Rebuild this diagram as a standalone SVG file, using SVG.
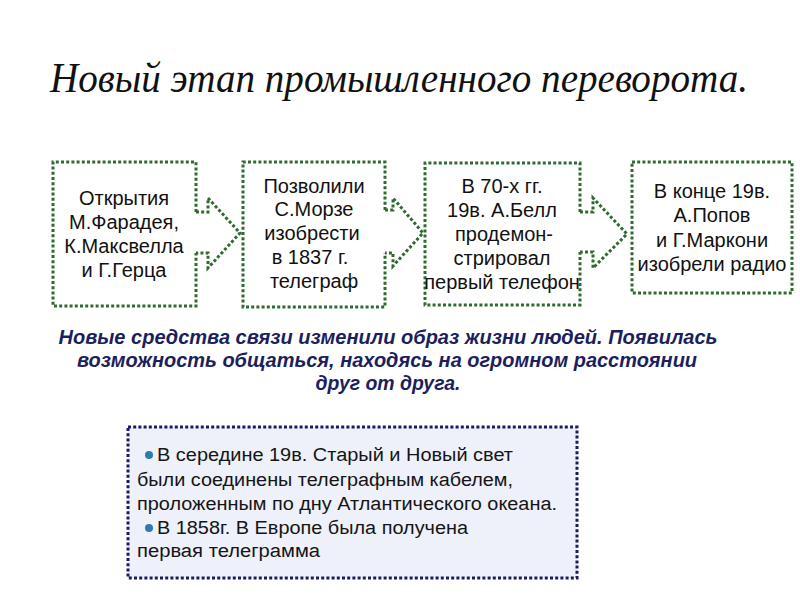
<svg xmlns="http://www.w3.org/2000/svg" width="800" height="600" viewBox="0 0 800 600">
<style>
.bg{fill:#ffffff}
.box{fill:none;stroke:#2f6b2f;stroke-width:3;stroke-dasharray:3 2.2}
.arr{fill:none;stroke:#2f6b2f;stroke-width:3;stroke-dasharray:3 2.2}
.t{font-family:"Liberation Sans",Arial,sans-serif;font-size:20px;fill:#111;text-anchor:middle}
.title{font-family:"Liberation Serif","Times New Roman",serif;font-style:italic;font-size:42px;fill:#111}
.mid{font-family:"Liberation Sans Narrow","Liberation Sans",Arial,sans-serif;font-weight:bold;font-style:italic;font-size:20px;fill:#1c1f5e;text-anchor:middle}
.note{fill:#eef0fa;stroke:#1a1a66;stroke-width:3;stroke-dasharray:3 2.2}
.nt{font-family:"Liberation Sans",Arial,sans-serif;font-size:18px;fill:#151515}
.bul{fill:#2b7db0}
</style>
<rect class="bg" x="0" y="0" width="800" height="600"/>
<text class="title" x="50" y="92" textLength="698" lengthAdjust="spacingAndGlyphs">Новый этап промышленного переворота.</text>

<g id="node1">
<path class="box" d="M196,212 V162 H53 V306 H196 V253"/>
<text class="t" x="124" y="205">Открытия</text>
<text class="t" x="124" y="229">М.Фарадея,</text>
<text class="t" x="124" y="253">К.Максвелла</text>
<text class="t" x="124" y="277">и Г.Герца</text>
</g>
<g id="node2">
<path class="box" d="M385,210 V162 H243 V307 H385 V253"/>
<text class="t" x="314" y="193">Позволили</text>
<text class="t" x="314" y="216">С.Морзе</text>
<text class="t" x="312" y="240">изобрести</text>
<text class="t" x="310" y="264">в 1837 г.</text>
<text class="t" x="314" y="288">телеграф</text>
</g>
<g id="node3">
<path class="box" d="M580,212 V163 H425 V305 H580 V252"/>
<text class="t" x="502" y="193">В 70-х гг.</text>
<text class="t" x="502" y="217">19в. А.Белл</text>
<text class="t" x="504" y="241">продемон-</text>
<text class="t" x="502" y="265">стрировал</text>
<text class="t" x="502" y="289">первый телефон</text>
</g>
<g id="node4">
<rect class="box" x="632" y="162" width="160" height="131"/>
<text class="t" x="712" y="198">В конце 19в.</text>
<text class="t" x="712" y="222">А.Попов</text>
<text class="t" x="712" y="247">и Г.Маркони</text>
<text class="t" x="712" y="271">изобрели радио</text>
</g>

<g id="connectors">
<path class="arr" d="M196,212 H208 V198 L240,233 L208,268 V253 H196"/>
<path class="arr" d="M385,210 H393 V198 L423,233 L393,266 V253 H385"/>
<path class="arr" d="M580,212 H593 V198 L627,234 L593,268 V252 H580"/>
</g>

<g id="summary">
<text class="mid" x="388" y="344" textLength="659" lengthAdjust="spacingAndGlyphs">Новые средства связи изменили образ жизни людей. Появилась</text>
<text class="mid" x="387" y="367" textLength="620" lengthAdjust="spacingAndGlyphs">возможность общаться, находясь на огромном расстоянии</text>
<text class="mid" x="388" y="390" textLength="145" lengthAdjust="spacingAndGlyphs">друг от друга.</text>
</g>

<g id="note">
<rect class="note" x="128" y="427" width="449" height="151"/>
<circle class="bul" cx="149" cy="455" r="4"/>
<circle class="bul" cx="149" cy="528" r="4"/>
<text class="nt" x="157" y="461" textLength="356" lengthAdjust="spacingAndGlyphs">В середине 19в. Старый и Новый свет</text>
<text class="nt" x="137" y="486" textLength="376" lengthAdjust="spacingAndGlyphs">были соединены телеграфным кабелем,</text>
<text class="nt" x="137" y="510" textLength="420" lengthAdjust="spacingAndGlyphs">проложенным по дну Атлантического океана.</text>
<text class="nt" x="157" y="534" textLength="311" lengthAdjust="spacingAndGlyphs">В 1858г. В Европе была получена</text>
<text class="nt" x="137" y="557" textLength="183" lengthAdjust="spacingAndGlyphs">первая телеграмма</text>
</g>
</svg>
